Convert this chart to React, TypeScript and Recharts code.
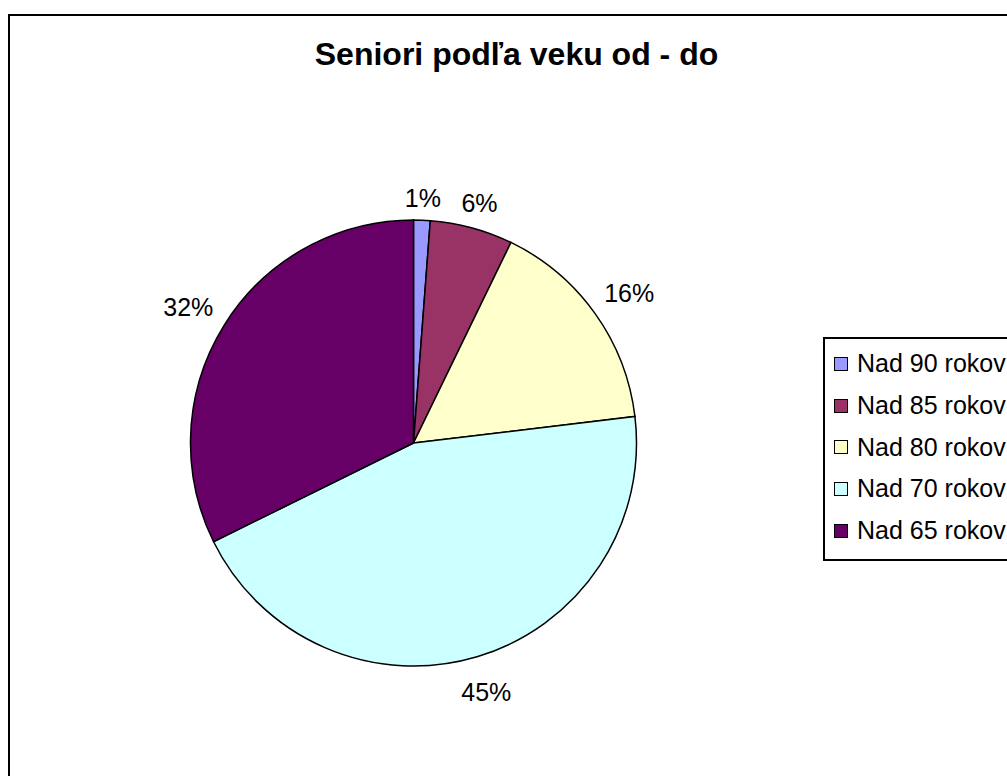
import React from 'react';
import { PieChart, Pie, Cell, Legend } from 'recharts';

const categories = ['Nad 90 rokov', 'Nad 85 rokov', 'Nad 80 rokov', 'Nad 70 rokov', 'Nad 65 rokov'];
const shares = [1.2, 6.0, 15.9, 44.6, 32.3];
const colors = ['#9999FF', '#993366', '#FFFFCC', '#CCFFFF', '#660066'];
const title = 'Seniori podľa veku od - do';

const data = categories.map((name, i) => ({ name, value: shares[i] }));

const FONT = '"Liberation Sans", Arial, sans-serif';
const RAD = Math.PI / 180;

const renderLabel = (props: any) => {
  const { cx, cy, midAngle, outerRadius, percent } = props;
  const text = `${Math.round(percent * 100)}%`;
  const w = text.length * 16;
  const h = 18;
  const c = Math.cos(-midAngle * RAD);
  const s = Math.sin(-midAngle * RAD);
  const r = outerRadius + 17 + Math.abs(c) * w / 2 + Math.abs(s) * h / 2;
  const x = cx + r * c;
  const y = cy + r * s + 4;
  return (
    <text x={x} y={y} textAnchor="middle" dominantBaseline="central" fontSize={25} fontFamily={FONT} fill="#000">
      {text}
    </text>
  );
};

const renderLegend = (props: any) => {
  const payload = [...(props.payload || [])].sort(
    (a: any, b: any) => categories.indexOf(a.value) - categories.indexOf(b.value)
  );
  return (
    <div style={{ border: '2px solid #000', background: '#fff', padding: '4px 0 8px 8px', width: 300, boxSizing: 'border-box' }}>
      {payload.map((entry: any, i: number) => (
        <div key={i} style={{ display: 'flex', alignItems: 'center', height: 41.7, fontFamily: FONT, fontSize: 25, color: '#000', whiteSpace: 'nowrap' }}>
          <span style={{ display: 'inline-block', width: 12, height: 12, border: '1.5px solid #000', background: entry.color, marginRight: 9, marginLeft: 1 }} />
          <span>{entry.value}</span>
        </div>
      ))}
    </div>
  );
};

export default function App() {
  return (
    <div style={{ position: 'absolute', left: 0, top: 0, width: 1007, height: 776, overflow: 'hidden', background: '#fff' }}>
      <div style={{ position: 'absolute', left: 8, top: 14, width: 1200, height: 1000, border: '2px solid #000', boxSizing: 'border-box' }} />
      <div style={{ position: 'absolute', left: 8, top: 38, width: 1017, textAlign: 'center', fontFamily: FONT, fontWeight: 'bold', fontSize: 32, lineHeight: '32px', color: '#000' }}>
        {title}
      </div>
      <div style={{ position: 'absolute', left: 0, top: 0 }}>
        <PieChart width={1007} height={776} margin={{ top: 0, right: 0, bottom: 0, left: 0 }}>
          <Pie
            data={data}
            dataKey="value"
            nameKey="name"
            cx={413.5}
            cy={443}
            outerRadius={223}
            startAngle={90}
            endAngle={-270}
            stroke="#000"
            strokeWidth={1.5}
            label={renderLabel}
            labelLine={false}
            isAnimationActive={false}
          >
            {data.map((d, i) => (
              <Cell key={d.name} fill={colors[i]} />
            ))}
          </Pie>
          <Legend
            layout="vertical"
            verticalAlign="middle"
            align="right"
            content={renderLegend}
            wrapperStyle={{ position: 'absolute', left: 823, top: 337, width: 300, right: 'auto', bottom: 'auto' }}
          />
        </PieChart>
      </div>
    </div>
  );
}
